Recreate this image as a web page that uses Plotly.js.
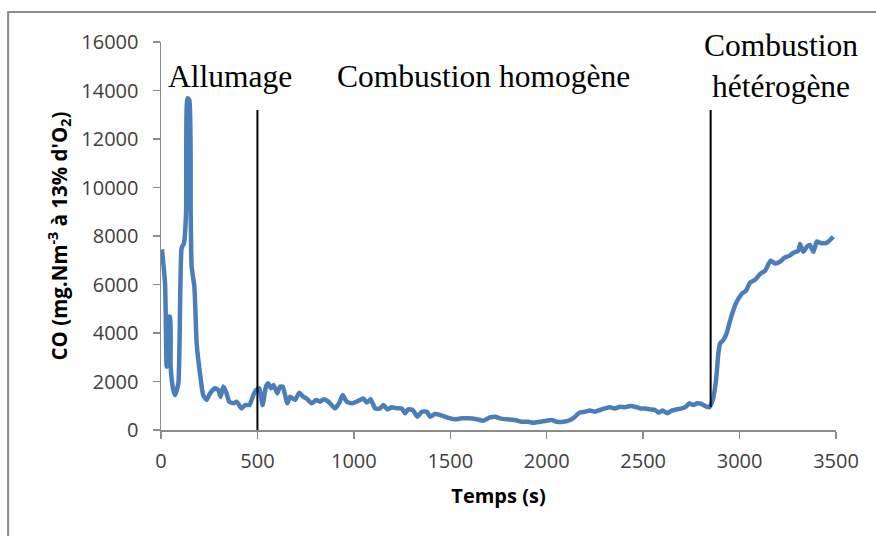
<!DOCTYPE html>
<html>
<head>
<meta charset="utf-8">
<script src="https://cdn.plot.ly/plotly-3.0.1.min.js"></script>
<style>body{margin:0;padding:0;background:#fff;} #chart{width:876px;height:536px;}</style>
</head>
<body>
<div id="chart"></div>
<script>
const timeS = [5, 21, 29, 38, 47, 50, 64, 73, 90, 107, 119, 130, 137, 147, 154, 159, 173, 185, 202, 219, 237, 254, 280, 297, 309, 323, 337, 354, 375, 392, 418, 436, 458, 479, 493, 510, 527, 544, 556, 569, 583, 603, 617, 631, 655, 669, 695, 717, 738, 755, 781, 804, 824, 845, 868, 885, 902, 925, 942, 963, 989, 1015, 1032, 1049, 1067, 1087, 1110, 1136, 1153, 1174, 1196, 1222, 1248, 1265, 1282, 1305, 1329, 1352, 1378, 1395, 1421, 1447, 1481, 1524, 1559, 1593, 1637, 1671, 1706, 1732, 1758, 1793, 1836, 1870, 1905, 1931, 1965, 2000, 2026, 2052, 2086, 2121, 2147, 2169, 2198, 2224, 2250, 2276, 2302, 2328, 2354, 2380, 2406, 2432, 2458, 2484, 2510, 2536, 2562, 2579, 2601, 2625, 2648, 2674, 2700, 2722, 2739, 2760, 2781, 2804, 2821, 2843, 2861, 2878, 2890, 2899, 2916, 2933, 2947, 2968, 2985, 3011, 3033, 3054, 3080, 3106, 3132, 3161, 3184, 3209, 3235, 3258, 3279, 3305, 3313, 3331, 3349, 3365, 3383, 3400, 3417, 3443, 3460, 3486];
const coValues = [7450, 6050, 2610, 4670, 4670, 2610, 1650, 1440, 1920, 7500, 7700, 8930, 13680, 13600, 8930, 6730, 5910, 3570, 2340, 1440, 1240, 1510, 1720, 1650, 1370, 1790, 1580, 1170, 1100, 1170, 890, 1030, 1030, 1440, 1650, 1720, 1030, 1790, 1930, 1720, 1860, 1510, 1790, 1790, 1100, 1370, 1240, 1540, 1370, 1300, 1100, 1240, 1170, 1270, 1170, 1030, 890, 1130, 1440, 1170, 1100, 1170, 1240, 1300, 1130, 1270, 890, 890, 1030, 850, 935, 900, 890, 690, 850, 825, 550, 755, 755, 550, 660, 620, 520, 440, 480, 480, 440, 385, 520, 550, 480, 440, 410, 340, 340, 300, 340, 385, 410, 340, 340, 410, 550, 715, 755, 800, 755, 825, 890, 935, 890, 960, 935, 990, 960, 890, 890, 850, 825, 715, 800, 690, 800, 850, 890, 960, 1100, 1030, 1100, 1070, 990, 935, 1240, 2060, 3160, 3570, 3710, 3990, 4400, 4950, 5290, 5610, 5740, 6070, 6190, 6430, 6570, 6980, 6870, 6940, 7120, 7180, 7310, 7390, 7670, 7350, 7560, 7630, 7350, 7770, 7720, 7700, 7770, 7970];
const phaseLines = [500, 2850];
const phaseLineBottoms = [0, 950];
const phaseLineTop = 13200;
const phaseLabels = ["Allumage", "Combustion homogène", "Combustion<br>hétérogène"];
const xTicks = [0, 500, 1000, 1500, 2000, 2500, 3000, 3500];
const yTicks = [0, 2000, 4000, 6000, 8000, 10000, 12000, 14000, 16000];

const tickFont = {family: "Open Sans, sans-serif", size: 20, color: "#404040"};
const serif = {family: "Liberation Serif, Times New Roman, serif", size: 31.5, color: "#000"};

const trace = {
  x: timeS, y: coValues, type: "scatter", mode: "lines",
  line: {color: "#4A7EBB", width: 4.5, shape: "spline", smoothing: 0.5},
  hoverinfo: "skip"
};

const shapes = phaseLines.map((xv, i) => ({
  type: "line", xref: "x", yref: "y", x0: xv, x1: xv, y0: phaseLineBottoms[i], y1: phaseLineTop,
  line: {color: "#000", width: 2}
}));
shapes.push({type: "rect", xref: "paper", yref: "paper", x0: -0.2265, x1: 1.2, y0: -0.3, y1: 1.0773,
  line: {color: "#8c8c8c", width: 2}, fillcolor: "rgba(0,0,0,0)", layer: "below"});

const annotations = [
  {text: phaseLabels[0], x: (230 - 161) / 675.5, y: (430 - 76) / 388},
  {text: phaseLabels[1], x: (484 - 161) / 675.5, y: (430 - 76) / 388},
  {text: phaseLabels[2], x: (781 - 161) / 675.5, y: (430 - 66) / 388}
].map(a => Object.assign({showarrow: false, font: serif, xref: "paper", yref: "paper", xanchor: "center", yanchor: "middle"}, a));

const layout = {
  width: 876, height: 536,
  margin: {l: 161, r: 39.5, t: 42, b: 106, pad: 0},
  paper_bgcolor: "#fff", plot_bgcolor: "#fff",
  showlegend: false,
  xaxis: {
    range: [0, 3500], tickvals: xTicks, ticktext: xTicks.map(String),
    showgrid: false, zeroline: false, showline: true, linecolor: "#8c8c8c", linewidth: 1.5,
    ticks: "outside", ticklen: 7, tickcolor: "#8c8c8c", tickwidth: 1.5,
    tickfont: tickFont, ticklabelstandoff: 5,
    title: {text: "<b>Temps (s)</b>", font: {family: "Open Sans, sans-serif", size: 20, color: "#000"}, standoff: 16}
  },
  yaxis: {
    range: [0, 16000], tickvals: yTicks, ticktext: yTicks.map(String),
    showgrid: false, zeroline: false, showline: true, linecolor: "#8c8c8c", linewidth: 1.5,
    ticks: "outside", ticklen: 7, tickcolor: "#8c8c8c", tickwidth: 1.5,
    tickfont: tickFont, ticklabelstandoff: 10,
    title: {text: "<b>CO (mg.Nm<sup>-3</sup> à 13% d'O<sub>2</sub>)</b>", font: {family: "Open Sans, sans-serif", size: 20.5, color: "#000"}, standoff: 8}
  },
  shapes: shapes,
  annotations: annotations
};

Plotly.newPlot("chart", [trace], layout, {staticPlot: true, displayModeBar: false});
</script>
</body>
</html>
